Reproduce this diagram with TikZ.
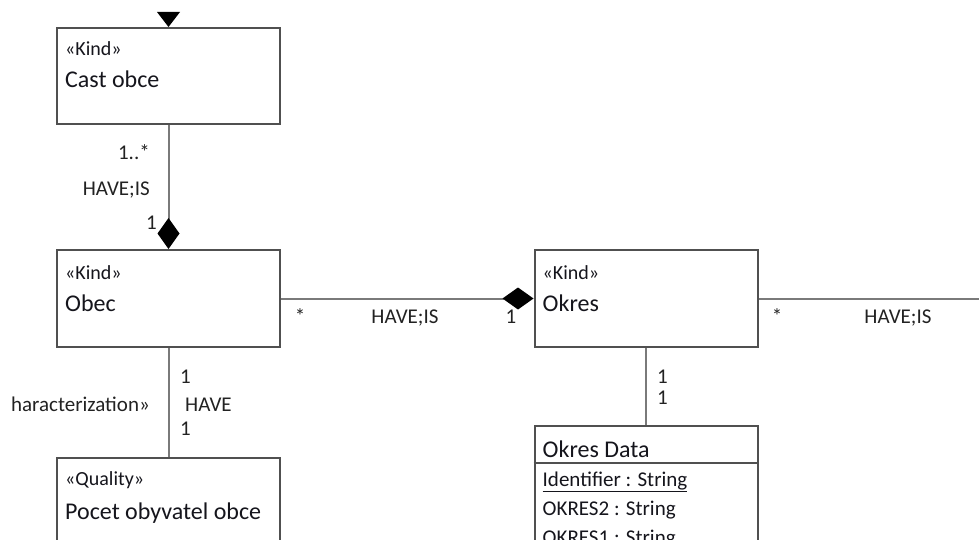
\documentclass[tikz,border=0pt]{standalone}
\usepackage{fontspec}
\setmainfont{Carlito}
\usepackage{tikz}
\usetikzlibrary{arrows.meta,positioning}
\definecolor{umlbox}{HTML}{505050}
\definecolor{umlline}{HTML}{7A7A7A}
\definecolor{umltext}{HTML}{15151C}
\definecolor{umllbl}{HTML}{222222}

\begin{document}
\begin{tikzpicture}[x=1pt, y=-1pt,
  cls/.style    ={draw=umlbox, line width=2pt, fill=white,
                  minimum width=223pt, inner sep=0pt},
  stereo/.style ={anchor=base west, inner sep=0pt, text=umltext,
                  font=\fontsize{20}{24}\selectfont},
  cname/.style  ={anchor=base west, inner sep=0pt, text=umltext,
                  font=\fontsize{24}{28}\selectfont},
  attr/.style   ={anchor=base west, inner sep=0pt, text=umltext,
                  font=\fontsize{21}{25}\selectfont},
  lbl/.style    ={inner sep=0pt, text=umllbl,
                  font=\fontsize{21}{25}\selectfont},
  assoc/.style  ={draw=umlline, line width=2pt},
  comp/.style   ={assoc, {Diamond[length=31pt, width=22pt, color=black, fill=black]}-}
]
  \useasboundingbox (0,0) rectangle (979,540);
  \clip (0,0) rectangle (979,540);

  % classes
  \node[cls, minimum height=96pt]  (cast)  at (168.5, 76)  {};
  \node[cls, minimum height=97pt]  (obec)  at (168.5,298.5) {};
  \node[cls, minimum height=120pt] (pocet) at (168.5,518)  {};
  \node[cls, minimum height=97pt]  (okres) at (646,298.5)  {};
  \node[cls, minimum height=160pt] (data)  at (646,506)    {};

  \node[stereo] (castst)  at ([xshift=9pt,yshift=-29pt]cast.north west)  {«Kind»};
  \node[cname]  (castnm)  at ([xshift=9pt,yshift=-61pt]cast.north west)  {Cast obce};
  \node[stereo] (obecst)  at ([xshift=9pt,yshift=-30pt]obec.north west)  {«Kind»};
  \node[cname]  (obecnm)  at ([xshift=9pt,yshift=-62pt]obec.north west)  {Obec};
  \node[stereo] (pocetst) at ([xshift=9pt,yshift=-28pt]pocet.north west) {«Quality»};
  \node[cname]  (pocetnm) at ([xshift=9pt,yshift=-62pt]pocet.north west) {Pocet obyvatel obce};
  \node[stereo] (okresst) at ([xshift=9pt,yshift=-30pt]okres.north west) {«Kind»};
  \node[cname]  (okresnm) at ([xshift=9pt,yshift=-62pt]okres.north west) {Okres};

  \node[cname]  (datanm)  at ([xshift=9pt,yshift=-32pt]data.north west)  {Okres Data};
  \draw[draw=umlbox, line width=1.6pt] ([yshift=-38pt]data.north west) -- ([yshift=-38pt]data.north east);
  \node[attr]   (dataid)  at ([xshift=9pt,yshift=-61pt]data.north west)  {\underline{Identifier : String}};
  \node[attr]   (dataok2) at ([xshift=9pt,yshift=-90pt]data.north west)  {OKRES2 : String};
  \node[attr]   (dataok1) at ([xshift=9pt,yshift=-119pt]data.north west) {OKRES1 : String};

  % cut composition end above Cast obce
  \coordinate (castcut) at ([yshift=15pt]cast.north);
  \fill[black] ([xshift=-11.5pt]castcut) -- ([xshift=11.5pt]castcut) -- (cast.north) -- cycle;

  % associations
  \coordinate (offright) at (995,298.5);
  \draw[comp]  (obec.north)  -- (cast.south);
  \draw[comp]  (okres.west)  -- (obec.east);
  \draw[assoc] (obec.south)  -- (pocet.north);
  \draw[assoc] (okres.south) -- (data.north);
  \draw[assoc] (okres.east)  -- (offright);

  % association labels
  \node[lbl, anchor=base east] (m1) at (150,160) {1..*};
  \node[lbl, anchor=base east] (n1) at (150,195) {HAVE;IS};
  \node[lbl, anchor=base east] (m2) at (157,229) {1};

  \node[lbl, anchor=base] (m3) at (300,323) {*};
  \node[lbl, anchor=base] (n2) at (405,323) {HAVE;IS};
  \node[lbl, anchor=base] (m4) at (511,323) {1};

  \node[lbl, anchor=base] (m5) at (777,323) {*};
  \node[lbl, anchor=base] (n3) at (898,323) {HAVE;IS};

  \node[lbl, anchor=base west] (m6) at (180,383) {1};
  \node[lbl, anchor=base west] (n4) at (185,411) {HAVE};
  \node[lbl, anchor=base west] (m7) at (180,435) {1};
  \node[lbl, anchor=base east] (s1) at (150,411) {haracterization»};

  \node[lbl, anchor=base west] (m8) at (657,383) {1};
  \node[lbl, anchor=base west] (m9) at (657,404) {1};
\end{tikzpicture}
\end{document}
